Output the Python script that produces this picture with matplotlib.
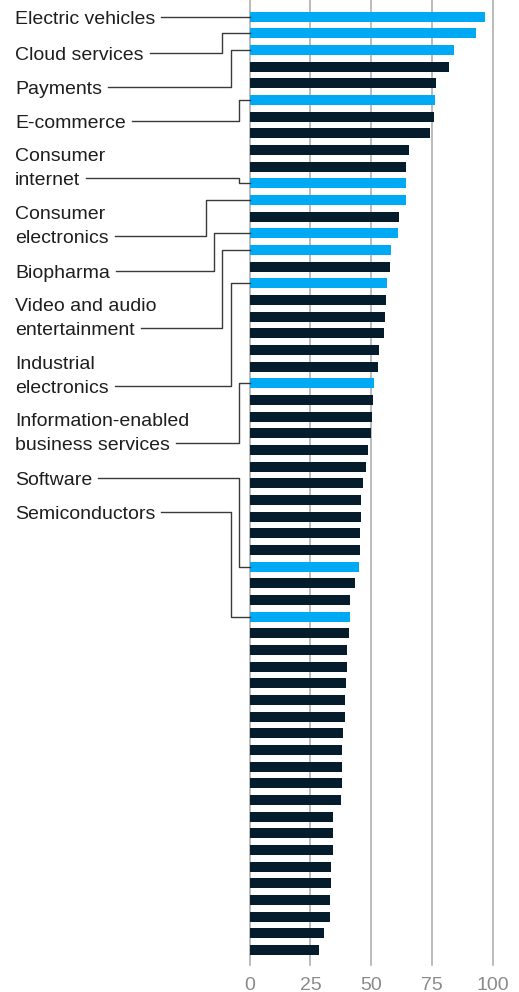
import matplotlib
matplotlib.use("Agg")
import matplotlib.pyplot as plt
import matplotlib.transforms as mtransforms

# share of value, one bar per sector, sorted high to low
values = [96.8, 93.1, 84.0, 82.0, 76.7, 76.3, 75.8, 74.2, 65.6, 64.4, 64.4, 64.4, 61.4, 61.0, 58.1,
          57.7, 56.5, 56.1, 55.7, 55.3, 53.2, 52.8, 51.2, 50.8, 50.4, 49.9, 48.7, 47.9, 46.7,
          45.9, 45.9, 45.5, 45.5, 45.1, 43.5, 41.4, 41.4, 41.0, 40.2, 40.2, 39.8, 39.4, 39.4,
          38.5, 38.1, 38.1, 38.1, 37.7, 34.4, 34.4, 34.4, 33.5, 33.5, 33.1, 33.1, 30.7, 28.6]

highlight_labels = ["Electric vehicles", "Cloud services", "Payments", "E-commerce",
                    "Consumer\ninternet", "Consumer\nelectronics", "Biopharma",
                    "Video and audio\nentertainment", "Industrial\nelectronics",
                    "Information-enabled\nbusiness services", "Software", "Semiconductors"]
highlight_rank = [0, 1, 2, 5, 10, 11, 13, 14, 16, 22, 33, 36]

xticks = [0, 25, 50, 75, 100]

BLUE = "#00a9f4"
NAVY = "#051c2c"

W, H = 519, 992


def main():
    fig = plt.figure(figsize=(W / 100, H / 100), dpi=100)
    ax = fig.add_axes([249.7 / W, 1 - 965 / H, 243 / W, 965 / H])

    n = len(values)
    colors = [BLUE if i in highlight_rank else NAVY for i in range(n)]
    ax.barh(range(n), values, height=0.6, color=colors, zorder=2)

    ax.set_xlim(0, 100)
    ax.set_ylim(56.9, -1.0)
    for t in xticks:
        ax.axvline(t, color="#a8a8a8", lw=1.1, zorder=0, clip_on=False)
    ax.set_xticks(xticks)
    ax.set_xticklabels([str(t) for t in xticks])
    ax.tick_params(axis="x", length=0, pad=8.5, labelsize=14, labelcolor="#8a8a8a")
    ax.set_yticks([])
    for s in ax.spines.values():
        s.set_visible(False)
    for lab in ax.get_xticklabels():
        lab.set_family("Liberation Sans")

    # label layout, in image pixels (y measured from the top)
    label_y = [17, 53, 87, 121, 178, 236, 271, 328, 386, 443, 478, 512]
    elbow_x = [240, 222, 231, 239, 239, 206, 214, 222, 231, 239, 239, 231]

    renderer = fig.canvas.get_renderer()
    trans = mtransforms.blended_transform_factory(mtransforms.IdentityTransform(), ax.transData)
    x0_px = ax.transData.transform((0, 0))[0]

    for label, rank, ly, ex in zip(highlight_labels, highlight_rank, label_y, elbow_x):
        lines = label.split("\n")
        last = None
        for k, line in enumerate(reversed(lines)):
            yy = H - (ly + 7 - 24 * k)
            t = fig.text(15 / W, yy / H, line, fontsize=14, family="Liberation Sans",
                         color="#1e1e1e", va="baseline", ha="left")
            if k == 0:
                last = t
        x_end = last.get_window_extent(renderer).x1 + 6
        y_lab = ax.transData.inverted().transform((0, H - ly))[1]
        ax.plot([x_end, ex, ex, x0_px], [y_lab, y_lab, rank, rank], transform=trans,
                color="#3a3a3a", lw=1.0, clip_on=False, zorder=3)

    fig.savefig("out.png", dpi=100)
    plt.close(fig)


if __name__ == "__main__":
    main()
